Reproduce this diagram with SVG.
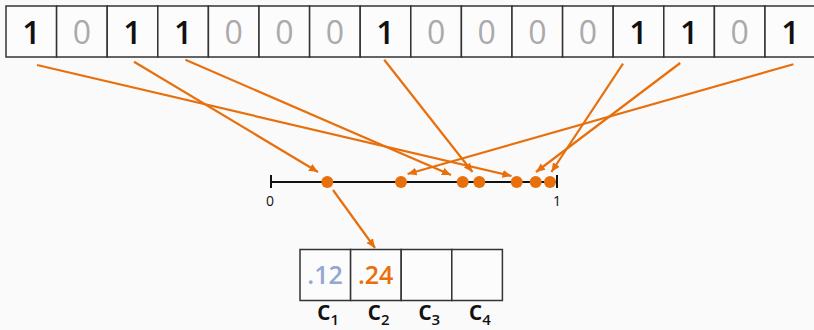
<svg xmlns="http://www.w3.org/2000/svg" width="814" height="330" viewBox="0 0 814 330">
<style>
.cell{fill:#fcfcfc;stroke:#333;stroke-width:1.5}
.bit{font-family:"Open Sans","Noto Sans",sans-serif;font-size:32px;text-anchor:middle}
.one{fill:#111;font-weight:600}
.zero{fill:#aaa;font-weight:500}
.arr{stroke:#e8700c;stroke-width:2.2;fill:none;marker-end:url(#ah)}
.dot{fill:#e8700c}
.lab{font-family:"Open Sans","Noto Sans",sans-serif;fill:#111}
.cnt{font-family:"Open Sans","Noto Sans",sans-serif;font-size:25px;font-weight:600;text-anchor:middle}
</style>
<defs>
<marker id="ah" markerWidth="10" markerHeight="10" refX="9" refY="5" orient="auto" markerUnits="userSpaceOnUse">
<path d="M0,1 L9,5 L0,9 Z" fill="#e8700c"/>
</marker>
</defs>
<rect width="814" height="330" fill="#fafafa"/>
<g id="bits">
<rect class="cell" x="6" y="6" width="50.6" height="51"/>
<rect class="cell" x="56.6" y="6" width="50.6" height="51"/>
<rect class="cell" x="107.2" y="6" width="50.6" height="51"/>
<rect class="cell" x="157.8" y="6" width="50.6" height="51"/>
<rect class="cell" x="208.4" y="6" width="50.6" height="51"/>
<rect class="cell" x="259" y="6" width="50.6" height="51"/>
<rect class="cell" x="309.6" y="6" width="50.6" height="51"/>
<rect class="cell" x="360.2" y="6" width="50.6" height="51"/>
<rect class="cell" x="410.8" y="6" width="50.6" height="51"/>
<rect class="cell" x="461.4" y="6" width="50.6" height="51"/>
<rect class="cell" x="512" y="6" width="50.6" height="51"/>
<rect class="cell" x="562.6" y="6" width="50.6" height="51"/>
<rect class="cell" x="613.2" y="6" width="50.6" height="51"/>
<rect class="cell" x="663.8" y="6" width="50.6" height="51"/>
<rect class="cell" x="714.4" y="6" width="50.6" height="51"/>
<rect class="cell" x="765" y="6" width="50.6" height="51"/>
<text class="bit one" x="31.3" y="44">1</text>
<text class="bit zero" x="81.9" y="44">0</text>
<text class="bit one" x="132.5" y="44">1</text>
<text class="bit one" x="183.1" y="44">1</text>
<text class="bit zero" x="233.7" y="44">0</text>
<text class="bit zero" x="284.3" y="44">0</text>
<text class="bit zero" x="334.9" y="44">0</text>
<text class="bit one" x="385.5" y="44">1</text>
<text class="bit zero" x="436.1" y="44">0</text>
<text class="bit zero" x="486.7" y="44">0</text>
<text class="bit zero" x="537.3" y="44">0</text>
<text class="bit zero" x="587.9" y="44">0</text>
<text class="bit one" x="638.5" y="44">1</text>
<text class="bit one" x="689.1" y="44">1</text>
<text class="bit zero" x="739.7" y="44">0</text>
<text class="bit one" x="790.3" y="44">1</text>
</g>
<g id="numberline">
<line x1="271" y1="182" x2="557" y2="182" stroke="#111" stroke-width="2"/>
<line x1="271" y1="175" x2="271" y2="188" stroke="#111" stroke-width="2"/>
<line x1="557" y1="175" x2="557" y2="188" stroke="#111" stroke-width="2"/>
<text class="lab" x="270" y="206" font-size="14" font-weight="500" text-anchor="middle">0</text>
<text class="lab" x="557" y="206" font-size="14" font-weight="500" text-anchor="middle">1</text>
<circle class="dot" cx="327.3" cy="182" r="6"/>
<circle class="dot" cx="401" cy="182" r="6"/>
<circle class="dot" cx="462.7" cy="182" r="6"/>
<circle class="dot" cx="479.3" cy="182" r="6"/>
<circle class="dot" cx="516.7" cy="182" r="6"/>
<circle class="dot" cx="535.7" cy="182" r="6"/>
<circle class="dot" cx="550" cy="182" r="6"/>
</g>
<g id="connectors">
<line class="arr" x1="37" y1="65" x2="511.5" y2="176"/>
<line class="arr" x1="134" y1="61.7" x2="318" y2="172"/>
<line class="arr" x1="185.4" y1="59.7" x2="451" y2="175"/>
<line class="arr" x1="384.2" y1="59.7" x2="472.5" y2="172"/>
<line class="arr" x1="623" y1="63.7" x2="551.4" y2="172"/>
<line class="arr" x1="680.2" y1="63" x2="536" y2="172"/>
<line class="arr" x1="793.4" y1="64.3" x2="407.6" y2="174"/>
<line class="arr" x1="333" y1="190" x2="375" y2="248"/>
</g>
<g id="counters">
<rect class="cell" x="300" y="249.5" width="50.6" height="51"/>
<rect class="cell" x="350.6" y="249.5" width="50.6" height="51"/>
<rect class="cell" x="401.2" y="249.5" width="50.6" height="51"/>
<rect class="cell" x="451.8" y="249.5" width="50.6" height="51"/>
<text class="cnt" x="325" y="284" fill="#8fa9d2">.12</text>
<text class="cnt" x="375.6" y="284" fill="#e8700c">.24</text>
<text class="lab" x="317" y="320" font-size="27" font-weight="600">c<tspan font-size="15" dy="5">1</tspan></text>
<text class="lab" x="367.6" y="320" font-size="27" font-weight="600">c<tspan font-size="15" dy="5">2</tspan></text>
<text class="lab" x="418.2" y="320" font-size="27" font-weight="600">c<tspan font-size="15" dy="5">3</tspan></text>
<text class="lab" x="468.8" y="320" font-size="27" font-weight="600">c<tspan font-size="15" dy="5">4</tspan></text>
</g>
</svg>
